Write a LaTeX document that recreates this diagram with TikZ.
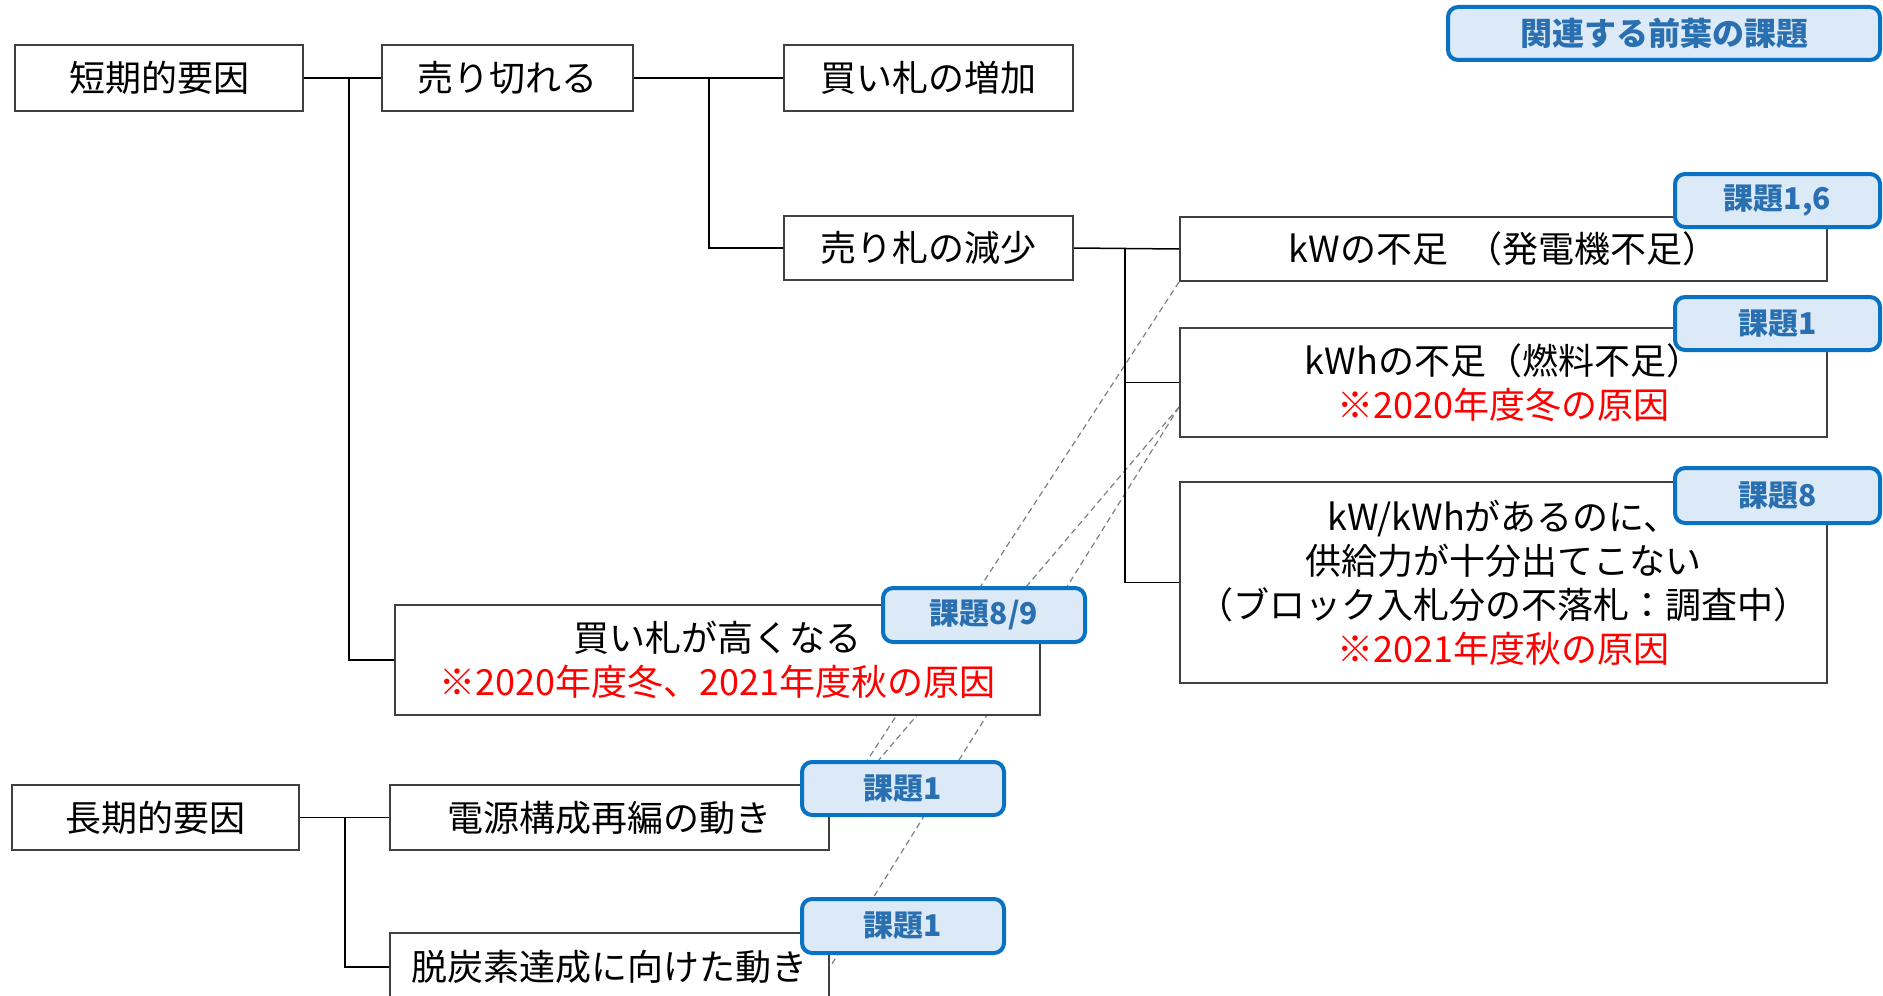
\documentclass[tikz,border=0pt]{standalone}
\usepackage{fontspec}
\setmainfont{Noto Sans CJK JP}
\usetikzlibrary{calc}
\pgfdeclarelayer{bg}
\pgfsetlayers{bg,main}
\definecolor{badgeblue}{HTML}{0A72C2}
\definecolor{badgefill}{HTML}{DCEAF7}
\definecolor{badgetext}{HTML}{2A70B0}
\definecolor{boxline}{HTML}{404040}
\definecolor{dashgray}{HTML}{7F7F7F}
\begin{document}
\begin{tikzpicture}[x=0.5pt,y=-0.5pt,
  box/.style={draw=boxline, line width=1pt, fill=white, inner sep=0pt, align=center, font=\fontsize{18}{22}\selectfont},
  badge/.style={draw=badgeblue, line width=2pt, fill=badgefill, rounded corners=5pt, inner sep=0pt, text=badgetext, font=\bfseries\fontsize{15}{18}\selectfont},
  conn/.style={line width=0.75pt, black},
  link/.style={dashgray, line width=0.6pt, dash pattern=on 3pt off 2pt}]
\useasboundingbox (0,0) rectangle (1883,995);
% boxes
\node[box, minimum width=144pt, minimum height=33pt] (tanki) at (159,78) {短期的要因};
\node[box, minimum width=125.5pt, minimum height=33pt] (urikire) at (507.5,78) {売り切れる};
\node[box, minimum width=144.5pt, minimum height=33pt] (kaifuda) at (928.5,78) {買い札の増加};
\node[box, minimum width=144.5pt, minimum height=32pt] (urifuda) at (928.5,248) {売り札の減少};
\node[box, minimum width=323.5pt, minimum height=32pt] (kw) at (1503.5,249) {kWの不足\hspace{0.5em}（発電機不足）};
\node[box, minimum width=323.5pt, minimum height=54.5pt] (kwh) at (1503.5,382.5) {kWhの不足（燃料不足）\\{\color{red}※2020年度冬の原因}};
\node[box, minimum width=323.5pt, minimum height=100.5pt] (kwkwh) at (1503.5,582.5) {kW/kWhがあるのに、\\供給力が十分出てこない\\（ブロック入札分の不落札：調査中）\\{\color{red}※2021年度秋の原因}};
\node[box, minimum width=322.5pt, minimum height=55pt] (takaku) at (717.5,660) {買い札が高くなる\\{\color{red}※2020年度冬、2021年度秋の原因}};
\node[box, minimum width=143.5pt, minimum height=32.5pt] (choki) at (155.5,817.5) {長期的要因};
\node[box, minimum width=219.5pt, minimum height=32.5pt] (dengen) at (609.5,817.5) {電源構成再編の動き};
\node[box, minimum width=219.5pt, minimum height=34pt] (datsu) at (609.5,967) {脱炭素達成に向けた動き};
% connectors
\draw[conn] (tanki.east) -- (urikire.west);
\coordinate (j1) at (349,78);
\draw[conn] (j1) |- (takaku.west);
\draw[conn] (urikire.east) -- (kaifuda.west);
\coordinate (j2) at (709,78);
\draw[conn] (j2) |- (urifuda.west);
\draw[conn] (urifuda.east) -- (kw.west);
\coordinate (j3) at (1125,248.5);
\draw[conn] (j3) |- (kwh.west);
\draw[conn] (j3) |- (kwkwh.west);
\draw[conn] (choki.east) -- (dengen.west);
\coordinate (j4) at (345,817.5);
\draw[conn] (j4) |- (datsu.west);
% dashed links
\coordinate (kwhp) at ([yshift=-12.25pt]kwh.west);
\begin{pgfonlayer}{bg}
\draw[link] (kw.south west) -- (dengen.east);
\draw[link] (kwhp) -- (dengen.east);
\draw[link] (kwhp) -- (datsu.east);
\end{pgfonlayer}
% badges
\node[badge, minimum width=216pt, minimum height=26.5pt, font=\bfseries\fontsize{16}{18}\selectfont] (bhead) at (1664,33.5) {関連する前葉の課題};
\node[badge, minimum width=102.5pt, minimum height=26.5pt] (b16) at (1777.5,200.5) {課題1,6};
\node[badge, minimum width=102.5pt, minimum height=26.5pt] (b1a) at (1777.5,323.5) {課題1};
\node[badge, minimum width=102.5pt, minimum height=27.5pt] (b8) at (1777.5,495.5) {課題8};
\node[badge, minimum width=101pt, minimum height=27pt] (b89) at (984,615) {課題8/9};
\node[badge, minimum width=101pt, minimum height=26.5pt] (b1b) at (903,788.5) {課題1};
\node[badge, minimum width=101pt, minimum height=27pt] (b1c) at (903,926) {課題1};
\end{tikzpicture}
\end{document}
